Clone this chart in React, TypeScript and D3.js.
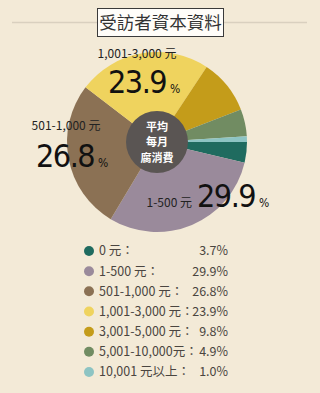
import React from "react";
import * as d3 from "d3";

const categories = ["0 元", "1-500 元", "501-1,000 元", "1,001-3,000 元", "3,001-5,000 元", "5,001-10,000 元", "10,001 元以上"];
const legendLabels = ["0 元：", "1-500 元：", "501-1,000 元：", "1,001-3,000 元：", "3,001-5,000 元：", "5,001-10,000元：", "10,001 元以上："];
const values = [3.7, 29.9, 26.8, 23.9, 9.8, 4.9, 1.0];
const colors = ["#1f6b5f", "#9a8a9b", "#8b7154", "#efd35e", "#c49c1a", "#718c62", "#8dc4c3"];
const title = "受訪者資本資料";
const centerLines = ["平均", "每月", "腐消費"];
const W = 320, H = 393;
const cx = 157, cy = 142, R = 90;

const NUM_FONT = "'DejaVu Sans Condensed', 'DejaVu Sans', sans-serif";
const CJK = "'Noto Sans CJK TC', 'Noto Sans', sans-serif";

export default function App() {
  const pie = d3.pie<number>().sort(null).startAngle(Math.PI / 2).endAngle(Math.PI / 2 + 2 * Math.PI);
  const arcs = pie(values);
  const arc = d3.arc<d3.PieArcDatum<number>>().innerRadius(0).outerRadius(R);
  const fmt = (v: number) => v.toFixed(1);

  const big = [
    { i: 3, lx: 137, ly: 58, nx: 108, ny: 93 },
    { i: 2, lx: 66, ly: 130, nx: 36, ny: 167 },
  ];

  const legendY = d3.scaleLinear().domain([0, categories.length - 1]).range([251, 372]);

  return (
    <svg width={W} height={H} style={{ position: "absolute", left: 0, top: 0 }}>
      <rect x={0} y={0} width={W} height={H} fill="#f3ead7" />
      <line x1={12} x2={307} y1={22.5} y2={22.5} stroke="#d9d0bf" strokeWidth={1.5} />
      <rect x={97.5} y={8.5} width={126} height={28} fill="#fffdf9" stroke="#3a3a3a" strokeWidth={1} />
      <text x={160.5} y={29} textAnchor="middle" fontFamily={CJK} fontSize={17.5} fill="#333">{title}</text>

      <g transform={`translate(${cx},${cy})`}>
        {arcs.map((a, i) => (
          <path key={i} d={arc(a) || ""} fill={colors[i]} />
        ))}
        <circle r={31} fill="#5a5553" />
        {centerLines.map((t, k) => (
          <text key={k} x={0} y={-15 + k * 15.5} dy="0.35em" textAnchor="middle" fontFamily={CJK} fontWeight={700} fontSize={11} fill="#fff">{t}</text>
        ))}
      </g>

      {big.map(({ i, lx, ly, nx, ny }) => (
        <g key={i}>
          <text x={lx} y={ly} textAnchor="middle" fontFamily={CJK} fontSize={12} fill="#222">{categories[i]}</text>
          <text x={nx} y={ny} fontFamily={NUM_FONT} fontSize={32} letterSpacing={-1.5} fill="#111">
            {fmt(values[i])}
            <tspan fontSize={12} dx={4} letterSpacing={0}>%</tspan>
          </text>
        </g>
      ))}
      <text x={192} y={207} textAnchor="end" fontFamily={CJK} fontSize={12} fill="#222">{categories[1]}</text>
      <text x={197} y={207} fontFamily={NUM_FONT} fontSize={32} letterSpacing={-1.5} fill="#111">
        {fmt(values[1])}
        <tspan fontSize={12} dx={4} letterSpacing={0}>%</tspan>
      </text>

      {legendLabels.map((c, i) => (
        <g key={c} transform={`translate(0,${legendY(i)})`}>
          <circle cx={89} cy={0} r={5} fill={colors[i]} />
          <text x={99} y={0} dy="0.35em" fontFamily={CJK} fontSize={12.5} fill="#4a4540">{c}</text>
          <text x={228} y={0} dy="0.35em" textAnchor="end" fontFamily={CJK} fontSize={12.5} fill="#4a4540">{fmt(values[i])}%</text>
        </g>
      ))}
    </svg>
  );
}
